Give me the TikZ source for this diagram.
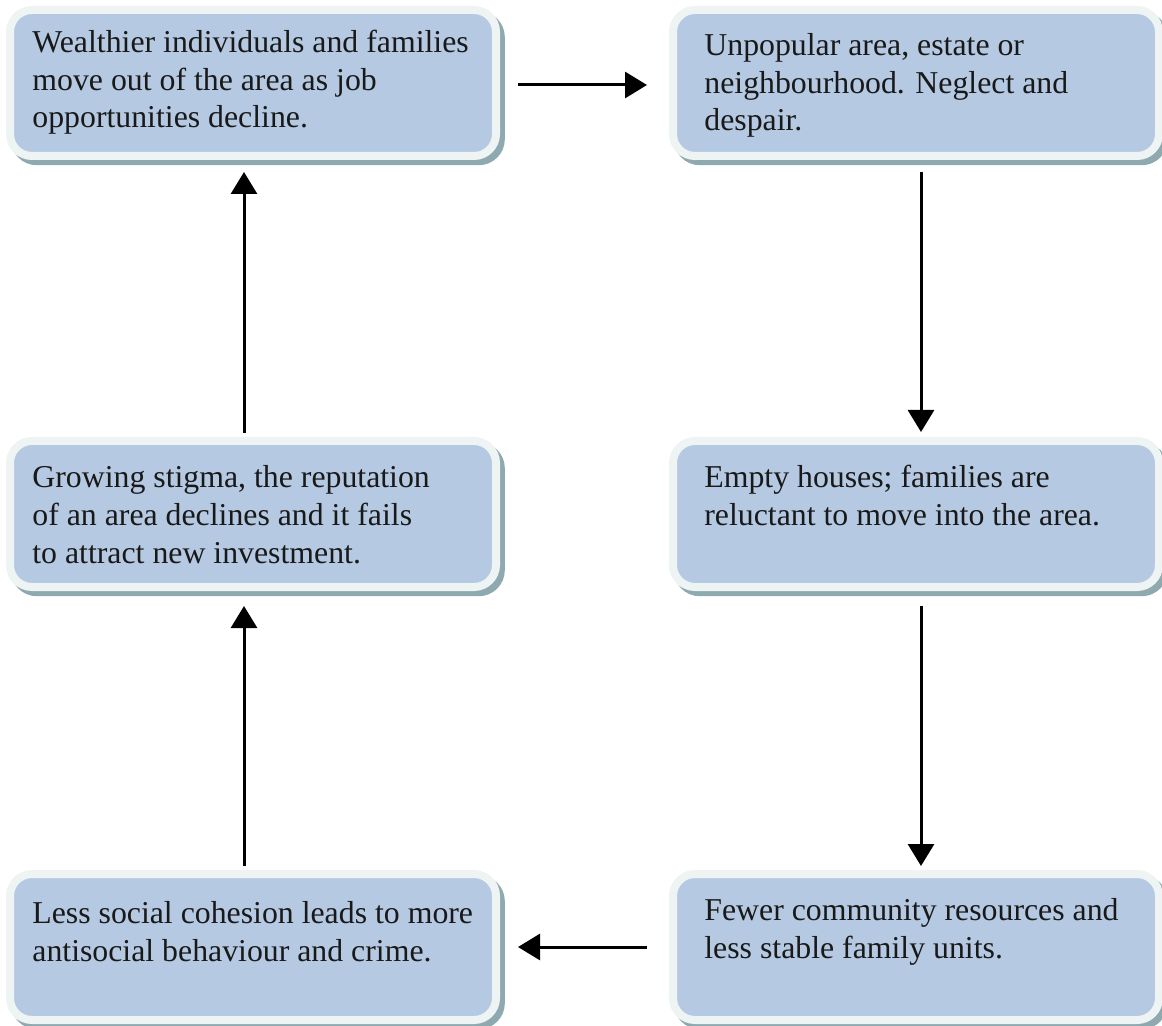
\documentclass[tikz,border=0pt]{standalone}
\usepackage{fontspec}
\setmainfont{Liberation Serif}
\usepackage{tikz}
\usetikzlibrary{arrows.meta,shadows}

\definecolor{boxblue}{HTML}{B5C9E2}
\definecolor{boxrim}{HTML}{EEF3F3}
\definecolor{boxshade}{HTML}{8FA9B1}

\begin{document}
\begin{tikzpicture}[%
		x=0.5pt,y=-0.5pt,
		stagebox/.style={draw=boxrim,fill=boxblue,line width=4pt,
			rounded corners=11pt,minimum width=243pt,minimum height=73pt,
			general shadow={fill=boxshade,draw=boxshade,line width=4pt,
				shadow xshift=2.4pt,shadow yshift=-2.6pt}},
		stagetext/.style={anchor=base west,align=left,inner sep=0pt,
			font=\fontsize{15.9}{18.8}\selectfont,text=black!90},
		cycle/.style={line width=1.5pt,-{Triangle[length=11pt,width=13pt]}}]
		\useasboundingbox (0,0) rectangle (1162,1026);
		% the six boxes
		\node[stagebox] (wealth) at (253,83) {};
		\node[stagebox] (unpop) at (916,83) {};
		\node[stagebox] (empty) at (916,514) {};
		\node[stagebox] (stigma) at (253,514) {};
		\node[stagebox] (cohesion) at (253,947) {};
		\node[stagebox] (fewer) at (916,947) {};
		% texts (placed by the baseline of their last line)
		\node[stagetext] (wealth-t) at (32,128) {Wealthier individuals and families\\move out of the area as job\\opportunities decline.};
		\node[stagetext] (unpop-t) at (704,131) {Unpopular area, estate or\\neighbourhood. Neglect and\\despair.};
		\node[stagetext] (empty-t) at (704,525) {Empty houses; families are\\reluctant to move into the area.};
		\node[stagetext] (stigma-t) at (32,563) {Growing stigma, the reputation\\of an area declines and it fails\\to attract new investment.};
		\node[stagetext] (cohesion-t) at (32,961) {Less social cohesion leads to more\\antisocial behaviour and crime.};
		\node[stagetext] (fewer-t) at (704,958) {Fewer community resources and\\less stable family units.};
		% the cycle
		\draw[cycle,shorten <=9pt,shorten >=11pt] ([yshift=-1pt]wealth.east) -- ([yshift=-1pt]unpop.west);
		\draw[cycle,shorten <=6pt,shorten >=2.5pt] ([xshift=2.5pt]unpop.south) -- ([xshift=2.5pt]empty.north);
		\draw[cycle,shorten <=7.5pt,shorten >=2pt] ([xshift=2.5pt]empty.south) -- ([xshift=2.5pt]fewer.north);
		\draw[cycle,shorten <=11pt,shorten >=9pt] (fewer.west) -- (cohesion.east);
		\draw[cycle,shorten <=2pt,shorten >=7.5pt] ([xshift=-4.5pt]cohesion.north) -- ([xshift=-4.5pt]stigma.south);
		\draw[cycle,shorten <=2pt,shorten >=6pt] ([xshift=-4.5pt]stigma.north) -- ([xshift=-4.5pt]wealth.south);
	\end{tikzpicture}
\end{document}
